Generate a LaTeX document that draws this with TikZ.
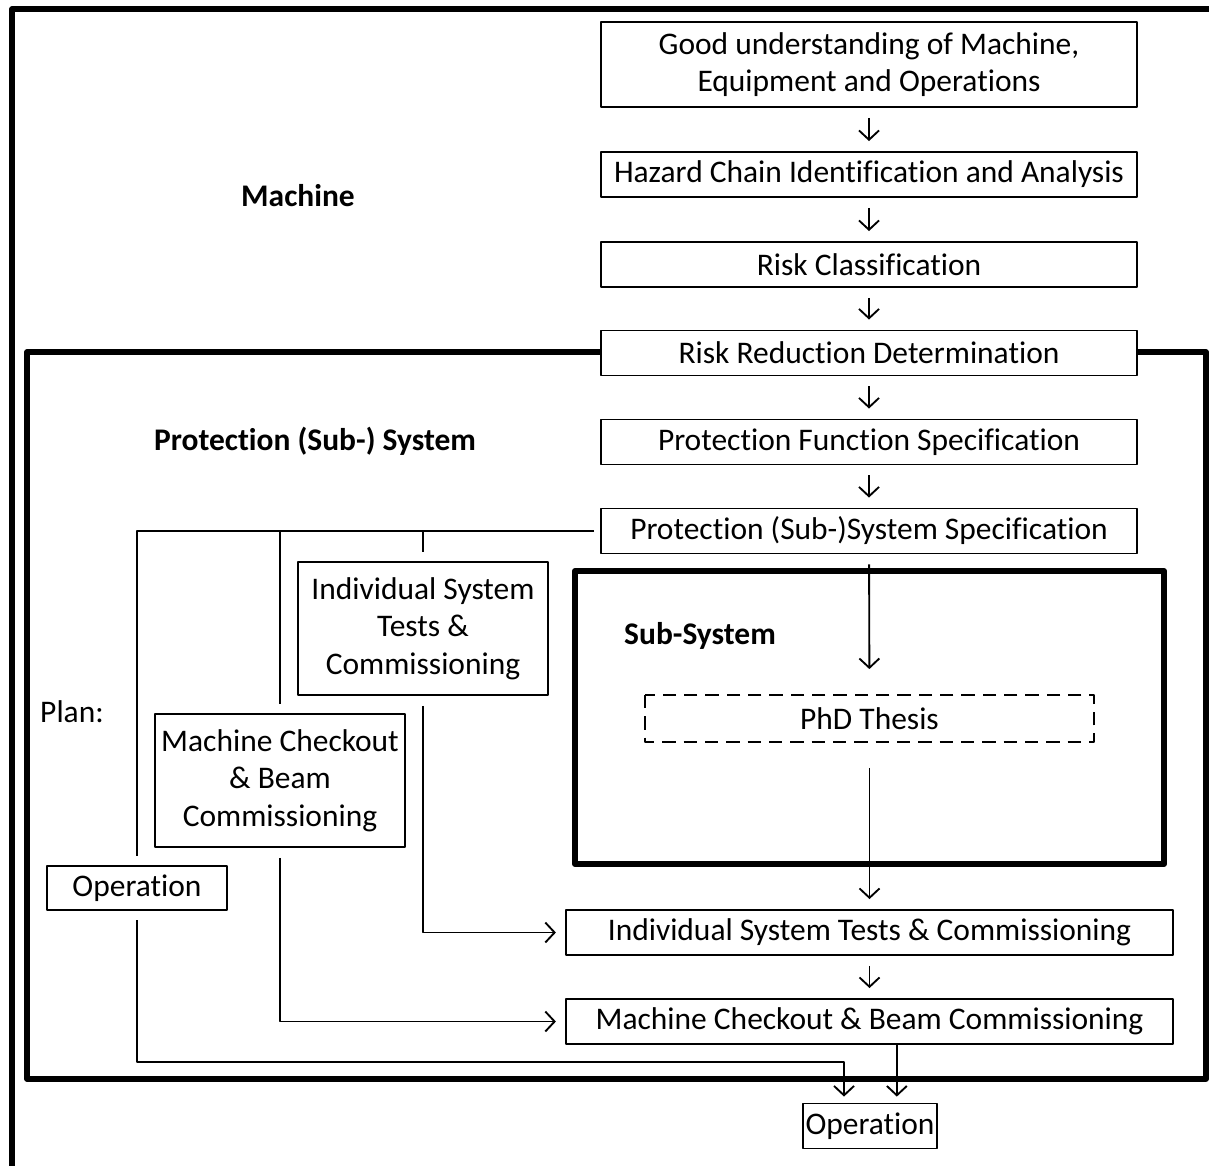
\documentclass[tikz,border=0pt]{standalone}
\usepackage{fontspec}
\setmainfont{Carlito}[Ligatures=NoCommon]
\usetikzlibrary{arrows.meta}

\begin{document}
\begin{tikzpicture}[x=0.75pt,y=-0.75pt,line join=round,
  txt/.style={font=\fontsize{23.6}{28}\selectfont},
  stepbox/.style={txt,draw,line width=1.4pt,fill=white,inner sep=0pt,align=center},
  mainbox/.style={stepbox,minimum width=402pt,minimum height=33.75pt},
  widebox/.style={stepbox,minimum width=455pt,minimum height=33.75pt},
  planbox/.style={stepbox,minimum width=187.5pt,minimum height=99.75pt},
  flow/.style={line width=1.4pt,-{Straight Barb[length=7pt,width=15pt,line width=1.4pt]}},
  link/.style={line width=1.4pt},
  frame/.style={line width=4.2pt},
  heading/.style={font=\fontsize{23.6}{28}\selectfont\bfseries}]

  \useasboundingbox (0,0) rectangle (1209,1166);

  % ---- frames ----
  \draw[frame,line cap=butt] (12,1166) -- (12,9) -- (1209,9);
  \draw[frame,line width=3.8pt] (27,352) rectangle (1206,1079);
  \draw[frame,line width=4.4pt] (575,571) rectangle (1164,864);

  % ---- headings ----
  \node[heading] (machine) at (298,196) {Machine};
  \node[heading] (protsys) at (315,441) {Protection (Sub-) System};
  \node[heading] (subsys) at (700,636) {Sub-System};
  \node[txt] (plan) at (72,712) {Plan:};

  % ---- main chain ----
  \node[mainbox,minimum height=63.75pt] (b1) at (869,64.5) {Good understanding of Machine,\\Equipment and Operations};
  \node[mainbox] (b2) at (869,174.5) {Hazard Chain Identification and Analysis};
  \node[mainbox] (b3) at (869,264.5) {Risk Classification};
  \node[mainbox] (b4) at (869,353) {Risk Reduction Determination};
  \node[mainbox] (b5) at (869,442) {Protection Function Specification};
  \node[mainbox] (b6) at (869,531) {Protection (Sub-)System Specification};
  \node[stepbox,draw=none,minimum width=335pt,minimum height=33.75pt] (phd) at (869.5,718.5) {PhD Thesis};
  \draw[line width=1.4pt,dash pattern=on 10pt off 6pt] (phd.north west) rectangle (phd.south east);
  \node[widebox] (b7) at (869.5,932.5) {Individual System Tests \& Commissioning};
  \node[widebox] (b8) at (869.5,1021.5) {Machine Checkout \& Beam Commissioning};
  \node[stepbox,minimum width=100.5pt,minimum height=33.75pt] (opB) at (870,1126) {Operation};

  \foreach \a/\b in {b1/b2,b2/b3,b3/b4,b4/b5,b5/b6}
    \draw[flow,shorten <=7.5pt,shorten >=7.5pt] (\a) -- (\b);
  \draw[flow,shorten <=7.5pt,shorten >=19.5pt] (b6) -- (phd);
  \draw[flow,shorten <=19.5pt,shorten >=7.5pt] (phd) -- (b7);
  \draw[flow,shorten <=7.5pt,shorten >=7.5pt] (b7) -- (b8);

  % ---- plan ----
  \node[planbox] (indL) at (423,628.5) {Individual System\\Tests \&\\Commissioning};
  \node[planbox] (machL) at (280,780.5) {Machine Checkout\\\& Beam\\Commissioning};
  \node[stepbox,minimum width=135pt,minimum height=33pt] (opL) at (137,888) {Operation};

  \draw[link] ([xshift=-4.5pt]b6.west) -| ([yshift=7pt]opL.north);
  \draw[link] ([yshift=7pt]machL.north) -- (machL.north |- b6.west);
  \draw[link] ([yshift=7pt]indL.north) -- (indL.north |- b6.west);

  \draw[flow] ([yshift=-7.5pt]indL.south) |- ([xshift=-7pt]b7.west);
  \draw[flow] ([yshift=-7.5pt]machL.south) |- ([xshift=-7pt]b8.west);

  \coordinate (opturn) at (844,1062);
  \coordinate (drop) at ([xshift=20.5pt]b8.south);
  \draw[flow,shorten >=4.5pt] ([yshift=-7pt]opL.south) |- (opturn) -- (opturn |- opB.north);
  \draw[flow,shorten >=4.5pt] (drop) -- (drop |- opB.north);

\end{tikzpicture}
\end{document}
